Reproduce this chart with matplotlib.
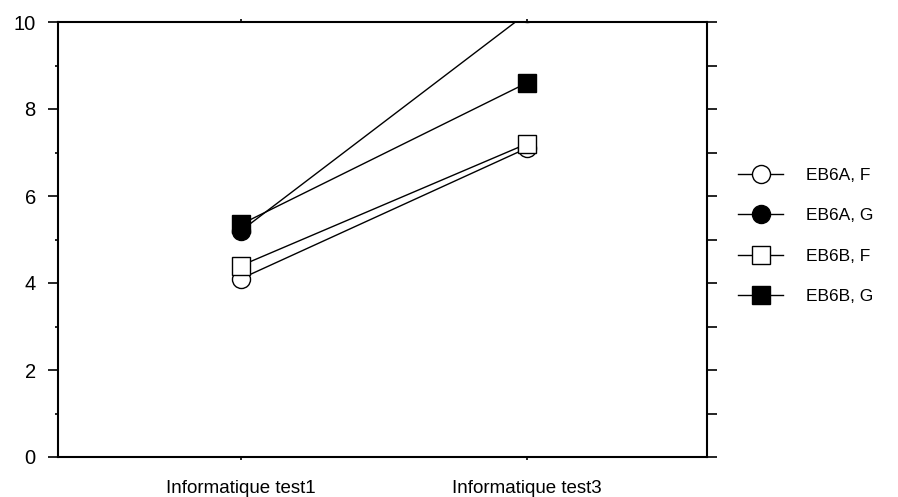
import matplotlib.pyplot as plt
from matplotlib.ticker import MultipleLocator

plt.rcParams['font.family'] = ['Liberation Sans', 'DejaVu Sans']

categories = ['Informatique test1', 'Informatique test3']
eb6a_f = [4.1, 7.1]
eb6a_g = [5.2, 10.2]
eb6b_f = [4.4, 7.2]
eb6b_g = [5.35, 8.6]

fig = plt.figure(figsize=(8.98, 4.97), dpi=100)
ax = fig.add_axes([58 / 898, 40 / 497, 649 / 898, 435 / 497])

x = [1, 2]
ms = 13
ax.plot(x, eb6a_f, color='black', lw=1, marker='o', ms=ms, mfc='white', mec='black', label='EB6A, F')
ax.plot(x, eb6a_g, color='black', lw=1, marker='o', ms=ms, mfc='black', mec='black', label='EB6A, G')
ax.plot(x, eb6b_f, color='black', lw=1, marker='s', ms=ms, mfc='white', mec='black', label='EB6B, F')
ax.plot(x, eb6b_g, color='black', lw=1, marker='s', ms=ms, mfc='black', mec='black', label='EB6B, G')

ax.set_ylim(0, 10)
ax.set_xlim(0.36, 2.63)
ax.set_xticks(x)
ax.set_xticklabels(categories, fontsize=13.5)
ax.yaxis.set_major_locator(MultipleLocator(2))
ax.yaxis.set_minor_locator(MultipleLocator(1))
ax.tick_params(axis='y', which='major', direction='out', length=7, width=1.2, labelsize=14.5, pad=9)
ax.tick_params(axis='y', which='minor', direction='out', length=2.5, width=1.2)
ax.tick_params(axis='x', direction='out', length=2.5, width=1.2, top=True, pad=14)
for s in ax.spines.values():
    s.set_linewidth(1.5)

# right side: every unit gets the same long outward tick, no labels
ax2 = ax.twinx()
ax2.set_ylim(0, 10)
ax2.yaxis.set_major_locator(MultipleLocator(1))
ax2.tick_params(axis='y', direction='out', length=7, width=1.2, labelright=False)
for s in ax2.spines.values():
    s.set_visible(False)

ax.legend(loc='center left', bbox_to_anchor=(1.048, 0.508), frameon=False, fontsize=12.5,
          borderpad=0, borderaxespad=0, handlelength=2.6, labelspacing=1.45,
          handletextpad=1.3, markerscale=1.0)

plt.savefig('out.png')
